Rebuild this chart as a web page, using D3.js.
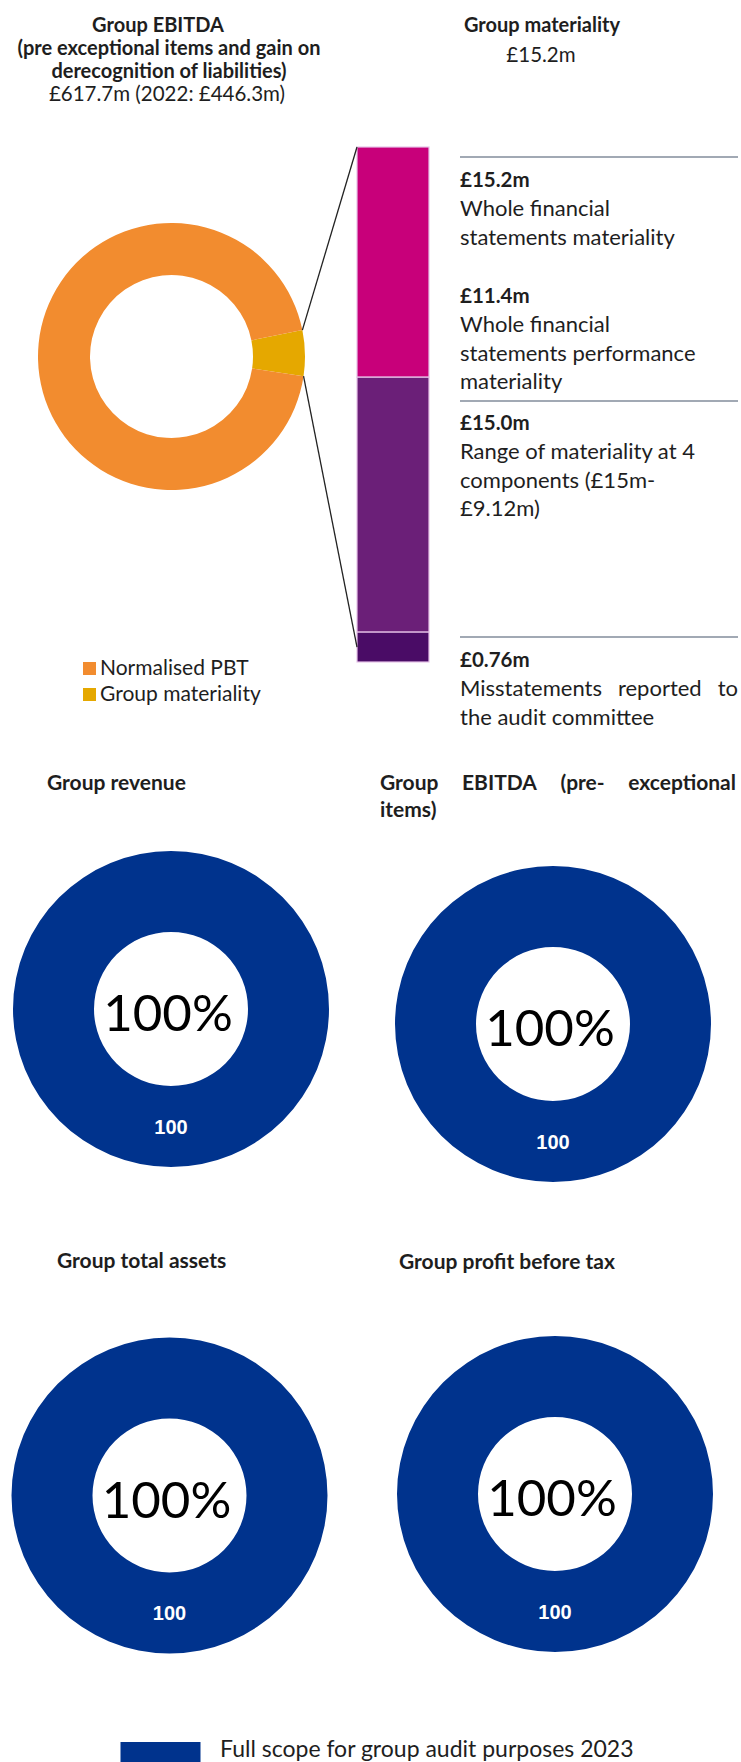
<!DOCTYPE html>
<html>
<head>
<meta charset="utf-8">
<script src="https://cdn.jsdelivr.net/npm/d3@7"></script>
<style>
  body { margin: 0; background: #ffffff; }
  svg { display: block; font-family: Lato, "Open Sans", sans-serif; }
</style>
</head>
<body>
<svg id="chart" width="741" height="1762"></svg>
<script>
// top donut: normalised PBT vs group materiality (slice)
var pbtNames = ["Group materiality", "Normalised PBT"];
var pbtValues = [15.2, 260];
var pbtColors = ["#e5a800", "#f28c2f"];

// stacked bar, share of bar height (%)
var barNames = ["Whole financial statements materiality", "Range of materiality at components", "Misstatements reported"];
var barValues = [44.7, 49.5, 5.8];
var barColors = ["#c8007a", "#6b1f78", "#4a0c66"];

// right hand notes
var noteValues = ["£15.2m", "£11.4m", "£15.0m", "£0.76m"];
var noteLines = [
    ["Whole financial", "statements materiality"],
    ["Whole financial", "statements performance", "materiality"],
    ["Range of materiality at 4", "components (£15m-", "£9.12m)"],
    ["Misstatements reported to", "the audit committee"]
];

// scope donuts
var scopeTitles = [["Group revenue"], ["Group EBITDA (pre- exceptional", "items)"], ["Group total assets"], ["Group profit before tax"]];
var scopeValues = [100, 100, 100, 100];
var scopeLegend = "Full scope for group audit purposes 2023";

var ink = "#1e1e1e";

// spread the words of one line between x0 and x1
function justify(sel, text, x0, x1, y, attrs) {
    var words = text.split(" ");
    var g = sel.append("g");
    for (var k in attrs) g.attr(k, attrs[k]);
    var nodes = words.map(function (w) {
        return g.append("text").attr("y", y).text(w);
    });
    var total = 0;
    nodes.forEach(function (n) { total += n.node().getComputedTextLength(); });
    var gap = (x1 - x0 - total) / (words.length - 1);
    var x = x0;
    nodes.forEach(function (n) {
        n.attr("x", x);
        x += n.node().getComputedTextLength() + gap;
    });
    return g;
}

function draw() {
    var svg = d3.select("#chart");

    // ---- titles at the top
    var t1 = svg.append("g").attr("fill", ink).attr("text-anchor", "middle");
    t1.append("text").attr("x", 158).attr("y", 32).attr("font-weight", "bold").attr("font-size", 20).text("Group EBITDA");
    t1.append("text").attr("x", 169).attr("y", 55).attr("font-weight", "bold").attr("font-size", 20).text("(pre exceptional items and gain on");
    t1.append("text").attr("x", 169).attr("y", 78).attr("font-weight", "bold").attr("font-size", 20).text("derecognition of liabilities)");
    t1.append("text").attr("x", 167).attr("y", 101).attr("font-size", 20.5).text("£617.7m (2022: £446.3m)");
    t1.append("text").attr("x", 542).attr("y", 32).attr("font-weight", "bold").attr("font-size", 20).text("Group materiality");
    t1.append("text").attr("x", 541).attr("y", 62).attr("font-size", 20.5).text("£15.2m");

    // ---- top donut
    var cx = 171.5, cy = 356.5, outerR = 133.5, innerR = 81.5;
    var sliceStart = 78.6 * Math.PI / 180;

    var pie = d3.pie().sort(null)
        .startAngle(sliceStart)
        .endAngle(sliceStart + 2 * Math.PI);
    var arc = d3.arc().innerRadius(innerR).outerRadius(outerR);
    var arcs = pie(pbtValues);

    var donut = svg.append("g").attr("transform", "translate(" + cx + "," + cy + ")");
    donut.selectAll("path").data(arcs).enter().append("path")
        .attr("d", arc)
        .attr("fill", function (d, i) { return pbtColors[i]; });

    // ---- stacked bar
    var barX = 357, barW = 72;
    var y = d3.scaleLinear().domain([0, d3.sum(barValues)]).range([147, 662]);
    var cum = 0;
    var stack = barValues.map(function (v) {
        var s = { y0: cum, y1: cum + v };
        cum += v;
        return s;
    });
    svg.append("g").selectAll("rect").data(stack).enter().append("rect")
        .attr("x", barX)
        .attr("y", function (d) { return y(d.y0); })
        .attr("width", barW)
        .attr("height", function (d) { return y(d.y1) - y(d.y0); })
        .attr("fill", function (d, i) { return barColors[i]; })
        .attr("stroke", "#e6c3e8")
        .attr("stroke-width", 1.2);

    // connector lines from the materiality slice to the bar
    var gold = arcs[0];
    function edge(a) { return [cx + outerR * Math.sin(a), cy - outerR * Math.cos(a)]; }
    var p0 = edge(gold.startAngle), p1 = edge(gold.endAngle);
    var lastSeg = stack[stack.length - 1];
    svg.append("line")
        .attr("x1", p0[0]).attr("y1", p0[1]).attr("x2", barX).attr("y2", y(0))
        .attr("stroke", "#222").attr("stroke-width", 1.3);
    svg.append("line")
        .attr("x1", p1[0]).attr("y1", p1[1]).attr("x2", barX).attr("y2", y((lastSeg.y0 + lastSeg.y1) / 2))
        .attr("stroke", "#222").attr("stroke-width", 1.3);

    // ---- legend of the top donut
    var leg = svg.append("g");
    [1, 0].forEach(function (k, i) {
        leg.append("rect").attr("x", 83).attr("y", 662 + i * 26).attr("width", 13).attr("height", 13).attr("fill", pbtColors[k]);
        leg.append("text").attr("x", 100).attr("y", 675 + i * 26).attr("font-size", 21).attr("fill", ink).text(pbtNames[k]);
    });

    // ---- notes on the right
    var notes = svg.append("g").attr("fill", ink).attr("font-size", 22);
    var noteX = 460, noteX1 = 738;
    [157, 401, 637].forEach(function (ry) {
        notes.append("line").attr("x1", noteX).attr("x2", noteX1).attr("y1", ry).attr("y2", ry)
            .attr("stroke", "#44546a").attr("stroke-width", 1.2);
    });
    var noteTop = [187, 303, 430, 667];
    var lineH = 28.8;
    noteValues.forEach(function (v, i) {
        notes.append("text").attr("x", noteX).attr("y", noteTop[i]).attr("font-weight", "bold").attr("font-size", 20.5).text(v);
        noteLines[i].forEach(function (l, j) {
            var ly = noteTop[i] + (j + 1) * lineH;
            if (i === 3 && j === 0) {
                justify(notes, l, noteX, noteX1, ly, {});
            } else {
                notes.append("text").attr("x", noteX).attr("y", ly).text(l);
            }
        });
    });

    // ---- scope donuts
    var scopeCenters = [[171, 1009], [553, 1024], [169.5, 1495.5], [555, 1494]];
    var scopeTitlePos = [[47, 790], [380, 790], [57, 1268], [399, 1269]];
    var scopeOuter = 158, scopeInner = 77;
    var blue = "#00338d";
    var scopeArc = d3.arc().innerRadius(scopeInner).outerRadius(scopeOuter);
    var scopePie = d3.pie().sort(null);
    var titleAttrs = { "font-weight": "bold", "font-size": 21, "fill": ink };

    scopeValues.forEach(function (v, i) {
        var tp = scopeTitlePos[i];
        scopeTitles[i].forEach(function (line, j) {
            if (i === 1 && j === 0) {
                justify(svg, line, tp[0], 736, tp[1], titleAttrs);
            } else {
                svg.append("text").attr("x", tp[0]).attr("y", tp[1] + j * 27)
                    .attr("font-weight", "bold").attr("font-size", 21).attr("fill", ink).text(line);
            }
        });

        var c = scopeCenters[i];
        var g = svg.append("g").attr("transform", "translate(" + c[0] + "," + c[1] + ")");
        var a = scopePie([v]);
        g.selectAll("path").data(a).enter().append("path")
            .attr("d", scopeArc)
            .attr("fill", blue);
        g.selectAll(".lbl").data(a).enter().append("text")
            .attr("class", "lbl")
            .attr("transform", function (d) { return "translate(" + scopeArc.centroid(d) + ")"; })
            .attr("dy", "0.36em")
            .attr("text-anchor", "middle")
            .attr("font-family", "'Liberation Sans', Arial, sans-serif")
            .attr("font-weight", "bold")
            .attr("font-size", 20)
            .attr("fill", "#ffffff")
            .text(function (d) { return d.value; });
        g.append("text")
            .attr("x", -3).attr("y", 22)
            .attr("text-anchor", "middle")
            .attr("font-size", 51)
            .attr("fill", "#000")
            .text(d3.format(".0%")(v / d3.sum(a, function (d) { return d.value; })));
    });

    // ---- bottom legend
    svg.append("rect").attr("x", 120.5).attr("y", 1742).attr("width", 80).attr("height", 40).attr("fill", blue);
    svg.append("text").attr("x", 220).attr("y", 1757).attr("font-size", 23).attr("fill", ink).text(scopeLegend);
}

document.fonts.load("bold 20px Lato").then(function () {
    return document.fonts.load("20px Lato");
}).then(draw, draw);
</script>
</body>
</html>
